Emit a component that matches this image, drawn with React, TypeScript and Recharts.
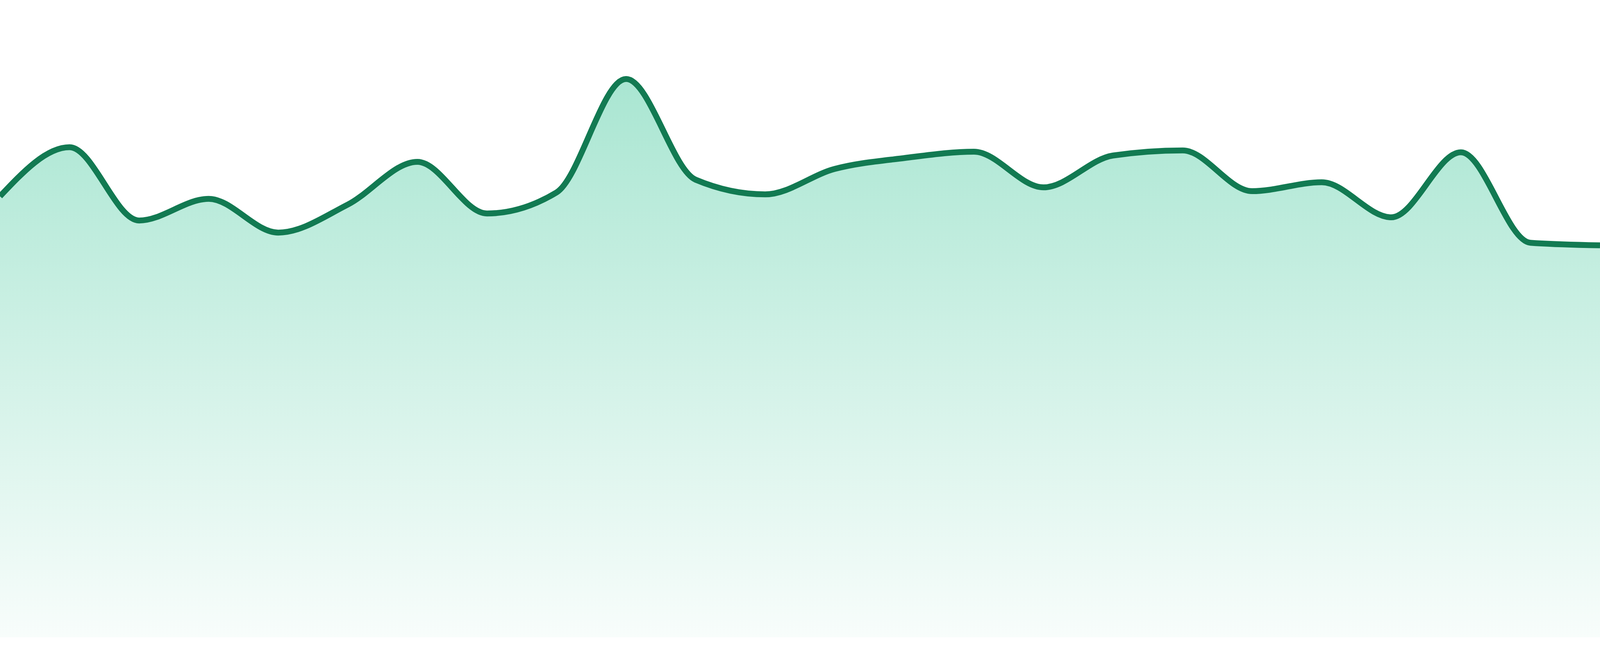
import { Area, AreaChart, XAxis, YAxis } from "recharts";

const hours = [
  "00:00", "01:00", "02:00", "03:00", "04:00", "05:00", "06:00", "07:00",
  "08:00", "09:00", "10:00", "11:00", "12:00", "13:00", "14:00", "15:00",
  "16:00", "17:00", "18:00", "19:00", "20:00", "21:00", "22:00", "23:00",
];

const load = [
  69.2, 76.9, 65.4, 68.8, 63.5, 67.9, 74.6, 66.5,
  69.8, 87.6, 71.8, 69.5, 73.5, 75.2, 76.2, 70.6,
  75.6, 76.4, 70.0, 71.4, 65.9, 76.1, 61.9, 61.5,
];

const yDomain = [0, 100];

const data = hours.map((hour, i) => ({ hour, load: load[i] }));

export default function App() {
  // fill the viewport exactly (the page is meant to be 4800x1680)
  const w = typeof window !== "undefined" && window.innerWidth ? window.innerWidth : 4800;
  const h = typeof window !== "undefined" && window.innerHeight ? window.innerHeight : 1680;
  const k = h / 1680;

  return (
    <div style={{ position: "fixed", top: 0, left: 0, width: w, height: h, background: "#fff", overflow: "hidden" }}>
      <AreaChart width={w} height={h} data={data} margin={{ top: 0, right: 0, left: 0, bottom: Math.round(48 * k) }}>
        <defs>
          <linearGradient id="loadFill" x1="0" y1="0" x2="0" y2="1">
            <stop offset="0%" stopColor="#10b981" stopOpacity={0.36} />
            <stop offset="100%" stopColor="#10b981" stopOpacity={0.03} />
          </linearGradient>
        </defs>
        <XAxis dataKey="hour" hide />
        <YAxis hide domain={yDomain} />
        <Area
          type="monotone"
          dataKey="load"
          stroke="#127a52"
          strokeWidth={15 * k}
          fill="url(#loadFill)"
          fillOpacity={1}
          dot={false}
          activeDot={false}
          isAnimationActive={false}
        />
      </AreaChart>
    </div>
  );
}
